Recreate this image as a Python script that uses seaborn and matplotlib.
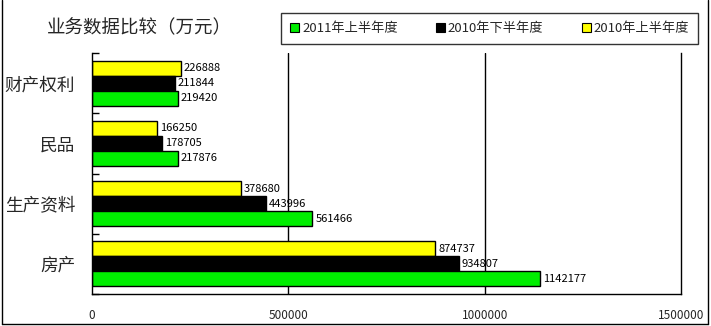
import matplotlib
matplotlib.use("Agg")
import matplotlib.pyplot as plt
from matplotlib.lines import Line2D
from matplotlib.patches import Patch
import pandas as pd
import seaborn as sns

# Categories (top to bottom) and half-year series values (万元)
categories = ["财产权利", "民品", "生产资料", "房产"]
h2010_first = [226888, 166250, 378680, 874737]
h2010_second = [211844, 178705, 443996, 934807]
h2011_first = [219420, 217876, 561466, 1142177]
series_names = ["2010年上半年度", "2010年下半年度", "2011年上半年度"]
series_colors = ["#ffff00", "#000000", "#00ee00"]
x_ticks = [0, 500000, 1000000, 1500000]
title_text = "业务数据比较（万元）"

rows = []
for name, vals in zip(series_names, [h2010_first, h2010_second, h2011_first]):
    for cat, v in zip(categories, vals):
        rows.append({"类别": cat, "数值": v, "系列": name})
df = pd.DataFrame(rows)

sns.set_theme(style="white")
plt.rcParams["font.family"] = ["Noto Sans CJK SC", "DejaVu Sans"]

fig = plt.figure(figsize=(7.11, 3.26), dpi=100)
ax = fig.add_axes([92 / 711, 1 - 294 / 326, (681 - 92) / 711, (294 - 53) / 326])

sns.barplot(
    data=df, y="类别", x="数值", hue="系列",
    order=categories, hue_order=series_names,
    palette=dict(zip(series_names, series_colors)),
    orient="h", width=0.75, saturation=1,
    edgecolor="black", linewidth=1, ax=ax, legend=False,
)

for cont in ax.containers:
    ax.bar_label(cont, fmt="{:.0f}", padding=2, fontsize=8, color="black")

ax.set_xlim(0, 1500000)
ax.set_ylim(3.5, -0.5)
ax.set_xticks(x_ticks)
ax.set_xticklabels([str(t) for t in x_ticks], fontsize=8.5)
ax.tick_params(axis="x", length=0, pad=11)
ax.set_xlabel("")
ax.set_ylabel("")

# category labels at centres, tick marks at category boundaries
ax.set_yticks(range(len(categories)))
ax.set_yticklabels(categories, fontsize=12.7)
ax.tick_params(axis="y", which="major", length=0, pad=12)
ax.set_yticks([-0.5, 0.5, 1.5, 2.5, 3.5], minor=True)
ax.tick_params(axis="y", which="minor", direction="in", length=5, width=1, color="black", left=True)

for t in x_ticks[1:-1]:
    ax.axvline(t, color="black", lw=1, zorder=0)
for side in ["left", "bottom", "right"]:
    ax.spines[side].set_color("black")
    ax.spines[side].set_linewidth(1)
ax.spines["top"].set_visible(False)

fig.text(47 / 711, 1 - 28 / 326, title_text, fontsize=13.3, va="center", ha="left")

handles = [Patch(facecolor=c, edgecolor="black", lw=0.8, label=n)
           for n, c in zip(series_names[::-1], series_colors[::-1])]
leg = fig.legend(
    handles=handles, ncol=3, loc="upper left",
    bbox_to_anchor=(281 / 711, 1 - 13 / 326), fontsize=9.5,
    frameon=True, fancybox=False, handlelength=0.7, handleheight=0.7,
    handletextpad=0.2, columnspacing=2.9, borderpad=0.7, borderaxespad=0,
)
leg.get_frame().set_edgecolor("black")
leg.get_frame().set_linewidth(1)

# outer chart border (left, right, bottom)
fig.add_artist(Line2D([2 / 711, 2 / 711], [2 / 326, 1], color="black", lw=1))
fig.add_artist(Line2D([708 / 711, 708 / 711], [2 / 326, 1], color="black", lw=1))
fig.add_artist(Line2D([2 / 711, 708 / 711], [2 / 326, 2 / 326], color="black", lw=1))

fig.savefig("out.png", dpi=100)
